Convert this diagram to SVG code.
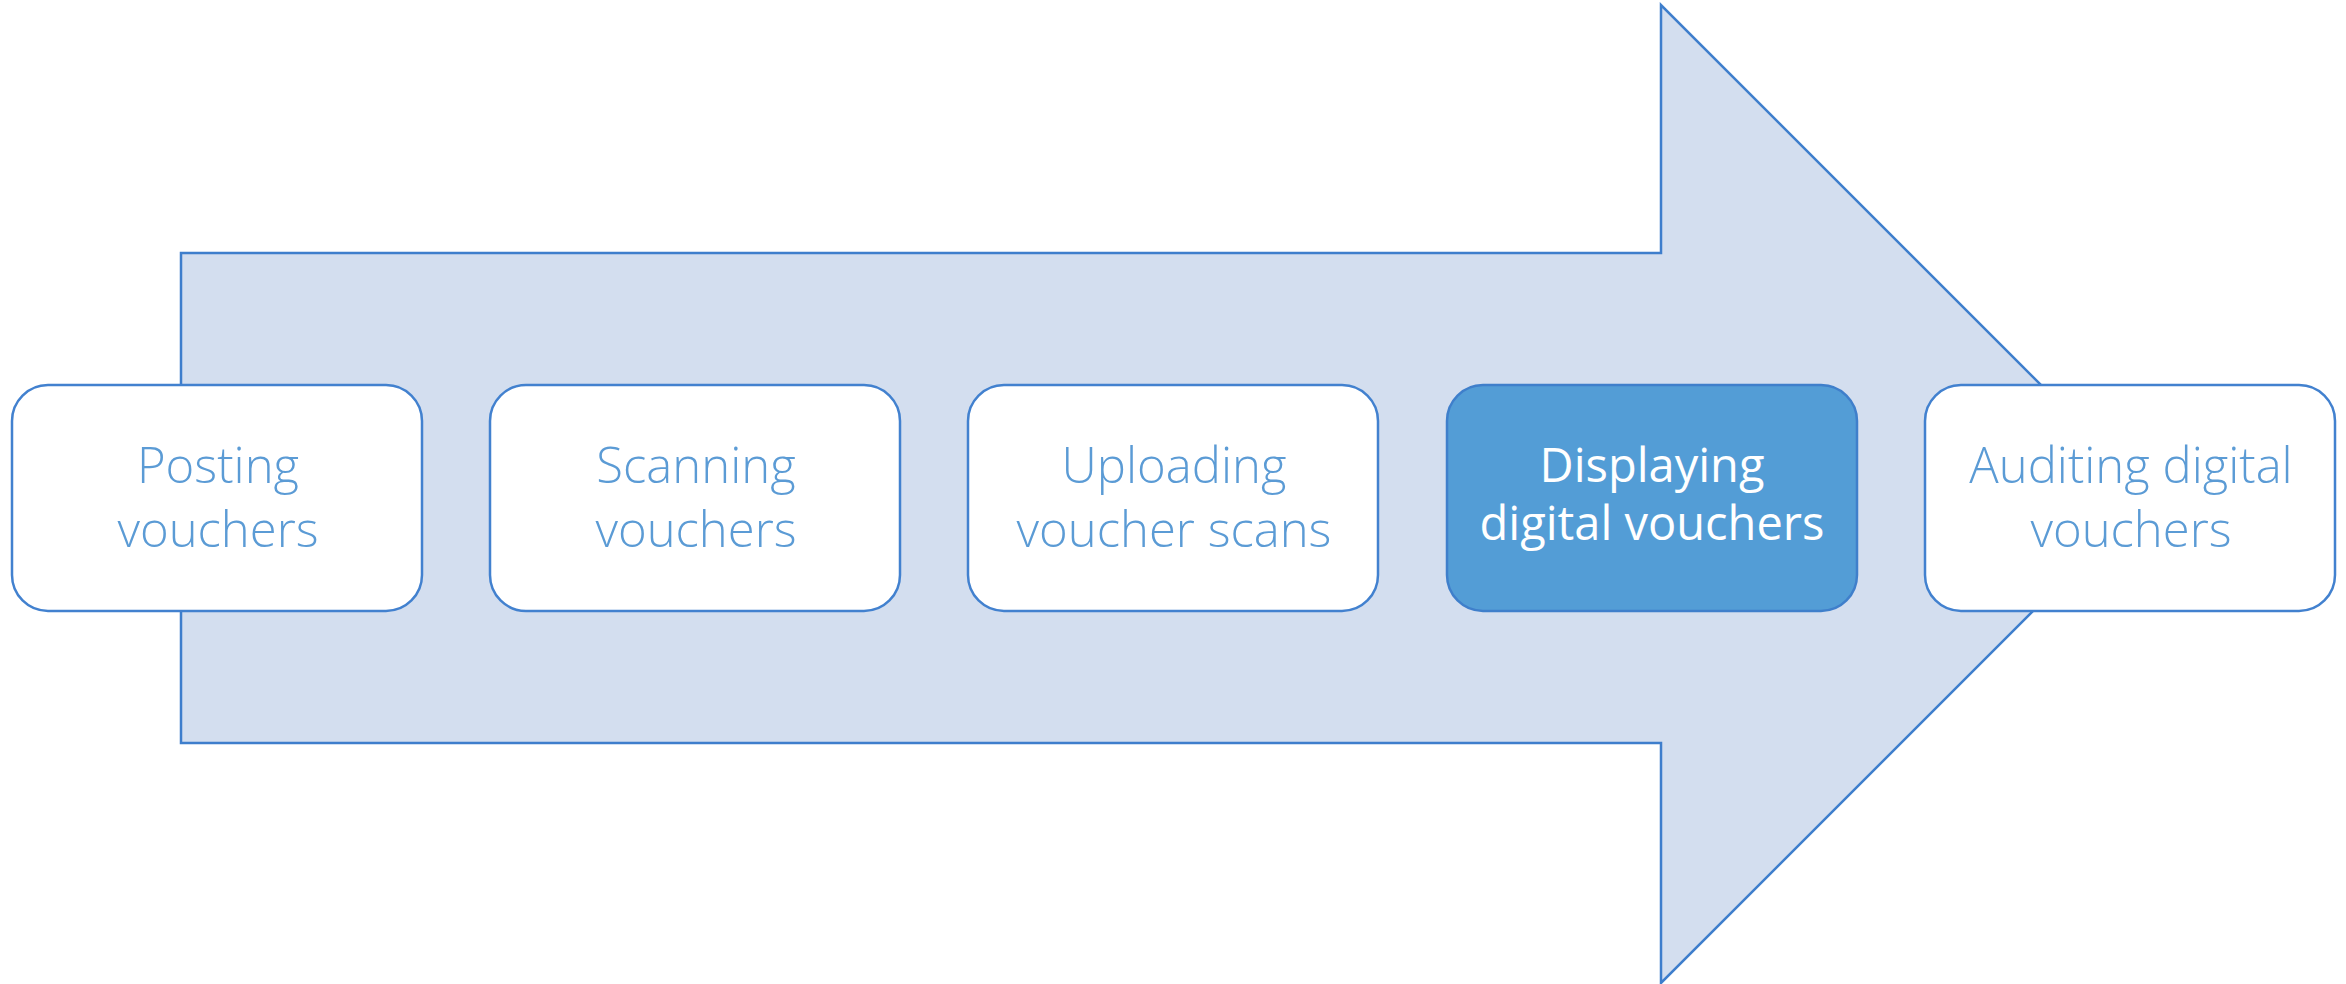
<svg xmlns="http://www.w3.org/2000/svg" width="2346" height="984" viewBox="0 0 2346 984">
<style>
.box{fill:#ffffff;stroke:#4281CF;stroke-width:2.5}
.hl{fill:#539DD6;stroke:#3F7FCB;stroke-width:2.5}
.t{font-family:"Segoe UI Light","Open Sans","Lato","Liberation Sans",sans-serif;font-weight:300;font-size:49px;text-anchor:middle;fill:#5B9BD5}
.tw{font-family:"Segoe UI","Open Sans","Liberation Sans",sans-serif;fill:#ffffff;font-weight:400;font-size:47px;text-anchor:middle}
</style>
<rect width="2346" height="984" fill="#ffffff"/>
<g id="arrow">
<polygon points="181,253 1661,253 1661,5 2150,494 1661,983 1661,743 181,743" fill="#D3DEEF" stroke="#3E7ECC" stroke-width="2.5" stroke-linejoin="miter"/>
</g>
<g id="connectors"></g>
<g id="node1">
<rect class="box" x="12" y="385" width="410" height="226" rx="36"/>
<text class="t" x="218" y="483">Posting</text>
<text class="t" x="218" y="547">vouchers</text>
</g>
<g id="node2">
<rect class="box" x="490" y="385" width="410" height="226" rx="36"/>
<text class="t" x="696" y="483">Scanning</text>
<text class="t" x="696" y="547">vouchers</text>
</g>
<g id="node3">
<rect class="box" x="968" y="385" width="410" height="226" rx="36"/>
<text class="t" x="1174" y="483">Uploading</text>
<text class="t" x="1174" y="547">voucher scans</text>
</g>
<g id="node4">
<rect class="hl" x="1447" y="385" width="410" height="226" rx="36"/>
<text class="tw" x="1652" y="482">Displaying</text>
<text class="tw" x="1652" y="540">digital vouchers</text>
</g>
<g id="node5">
<rect class="box" x="1925" y="385" width="410" height="226" rx="36"/>
<text class="t" x="2131" y="483">Auditing digital</text>
<text class="t" x="2131" y="547">vouchers</text>
</g>
</svg>
